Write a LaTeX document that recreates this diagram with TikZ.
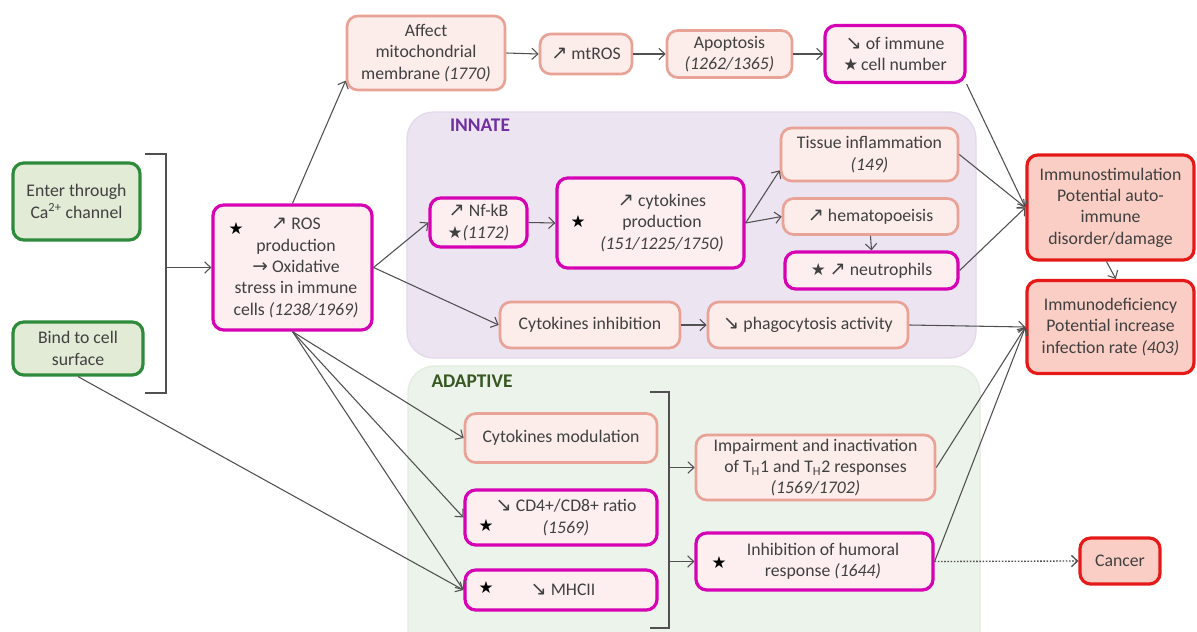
\documentclass[tikz,border=0pt]{standalone}
\usepackage{fontspec}
\setmainfont{Carlito}
\newfontfamily\symf{DejaVu Sans}
\usetikzlibrary{arrows.meta}
\newcommand{\arrup}{{\symf\fontsize{14.5}{14.5}\selectfont ↗}}
\newcommand{\arrdn}{{\symf\fontsize{14.5}{14.5}\selectfont ↘}}
\newcommand{\arrr}{{\symf\fontsize{14}{14}\selectfont →}}
\newcommand{\starx}{{\symf\fontsize{12.5}{12.5}\selectfont ★}}
\definecolor{textc}{RGB}{64,64,64}
\definecolor{linec}{RGB}{80,80,80}
\definecolor{gdraw}{RGB}{46,139,60}
\definecolor{gfill}{RGB}{226,235,214}
\definecolor{pdraw}{RGB}{232,162,150}
\definecolor{pfill}{RGB}{252,236,234}
\definecolor{mdraw}{RGB}{214,0,180}
\definecolor{mfill}{RGB}{253,239,240}
\definecolor{rdraw}{RGB}{230,25,25}
\definecolor{rfill}{RGB}{250,206,196}
\definecolor{innfill}{RGB}{237,228,242}
\definecolor{innline}{RGB}{228,216,236}
\definecolor{adafill}{RGB}{236,243,234}
\definecolor{adaline}{RGB}{226,236,224}
\definecolor{innlab}{RGB}{112,48,160}
\definecolor{adalab}{RGB}{56,87,35}
\tikzset{
  box/.style={rounded corners=8pt, align=center, text=textc, inner sep=2pt,
    font=\fontsize{13.3}{16}\selectfont},
  bx/.style 2 args={minimum width=#1*0.75pt, minimum height=#2*0.75pt},
  gbox/.style={box, draw=gdraw, fill=gfill, line width=2.4pt},
  pbox/.style={box, draw=pdraw, fill=pfill, line width=2pt},
  mbox/.style={box, draw=mdraw, fill=mfill, line width=2.4pt},
  rbox/.style={box, draw=rdraw, fill=rfill, line width=2.4pt},
  lbl/.style={align=center, text=textc, inner sep=0pt, font=\fontsize{13.3}{16}\selectfont},
  starnode/.style={inner sep=0pt, text=black},
  conn/.style={draw=linec, line width=0.8pt, -{Straight Barb[length=4.5pt,width=8.5pt]}},
  dots/.style={dash pattern=on 1.2pt off 1.2pt, line width=1pt},
  brk/.style={draw=linec, line width=1pt},
  region/.style={rounded corners=20pt, line width=1pt},
  reglab/.style={font=\fontsize{14.5}{16}\selectfont\bfseries, inner sep=0pt}
}
\begin{document}
\begin{tikzpicture}[x=0.75pt,y=-0.75pt]
\useasboundingbox (0,0) rectangle (1197,632);
\fill[white] (0,0) rectangle (1197,632);
% regions
\path[region, fill=innfill, draw=innline] (407,112) rectangle (976,358);
\path[region, fill=adafill, draw=adaline] (408,366) rectangle (980,680);
\node[reglab, text=innlab] (innlabel) at (480,125) {INNATE};
\node[reglab, text=adalab] (adalabel) at (472,381) {ADAPTIVE};
% entry
\node[gbox, bx={127}{77}] (ca) at (76.5,201.5) {Enter through\\Ca\textsuperscript{2+} channel};
\node[gbox, bx={130}{53}] (bind) at (78,348.5) {Bind to cell\\surface};
\draw[brk] (145,154) -- (166,154) -- (166,393) -- (145,393);
\coordinate (b1) at (166,267.5);
% ROS
\node[mbox, bx={159}{125}] (ros) at (292.5,267.5) {};
\node[lbl] (rostxt) at (296,268) {\arrup{} ROS\\production\\\arrr{} Oxidative\\stress in immune\\cells \textit{(1238/1969)}};
\node[starnode] (s1) at (236,229) {\starx};
% top row
\node[pbox, bx={158}{74}] (aff) at (426,53) {Affect\\mitochondrial\\membrane \textit{(1770)}};
\node[pbox, bx={92}{40}] (mtros) at (586,54) {\arrup{} mtROS};
\node[pbox, bx={125}{47}] (apop) at (729.5,54) {Apoptosis\\\textit{(1262/1365)}};
\node[mbox, bx={140}{57}] (imm) at (895,54) {\arrdn{} of immune\\\starx{}\,cell number};
% innate
\node[mbox, bx={97}{49}] (nfkb) at (478.5,222.5) {\arrup{} Nf-kB\\\starx\textit{(1172)}};
\node[mbox, bx={187}{90}] (cyto) at (650.5,223) {};
\node[lbl] (cytotxt) at (662,223) {\arrup{} cytokines\\production\\\textit{(151/1225/1750)}};
\node[starnode] (s2) at (578,222) {\starx};
\node[pbox, bx={177}{53}] (tissue) at (869.5,154.5) {Tissue inflammation\\\textit{(149)}};
\node[pbox, bx={175}{36}] (hema) at (870.5,216.5) {\arrup{} hematopoeisis};
\node[mbox, bx={173}{37}] (neut) at (871.5,270.5) {\starx{} \arrup{} neutrophils};
\node[pbox, bx={180}{46}] (cinh) at (590,325) {Cytokines inhibition};
\node[pbox, bx={200}{46}] (phago) at (808,325) {\arrdn{} phagocytosis activity};
% outcomes
\node[rbox, bx={167}{105}] (stim) at (1110.5,207.5) {Immunostimulation\\Potential auto-\\immune\\disorder/damage};
\node[rbox, bx={167}{93}] (def) at (1110.5,327) {Immunodeficiency\\Potential increase\\infection rate \textit{(403)}};
\node[rbox, bx={80}{46}] (cancer) at (1120,561) {Cancer};
% adaptive
\node[pbox, bx={192}{49}] (cmod) at (561,438) {Cytokines modulation};
\node[mbox, bx={192}{55}] (cd4) at (561,517.5) {};
\node[lbl] (cd4txt) at (566,517.5) {\arrdn{} CD4+/CD8+ ratio\\\textit{(1569)}};
\node[starnode] (s3) at (486,526) {\starx};
\node[mbox, bx={192}{40}] (mhc) at (561,590) {};
\node[lbl] (mhctxt) at (563,590) {\arrdn{} MHCII};
\node[starnode] (s4) at (486,588) {\starx};
\draw[brk] (650,392) -- (669,392) -- (669,628) -- (650,628);
\coordinate (b2) at (669,467.5);
\coordinate (b3) at (669,561.5);
\node[pbox, bx={239}{65}] (imp) at (815.5,467.5) {Impairment and inactivation\\of T\textsubscript{H}1 and T\textsubscript{H}2 responses\\\textit{(1569/1702)}};
\node[mbox, bx={237}{57}] (inhib) at (814.5,561.5) {};
\node[lbl] (inhibtxt) at (823,561.5) {Inhibition of humoral\\response \textit{(1644)}};
\node[starnode] (s5) at (719,563) {\starx};
% connectors
\draw[conn] (b1) -- (ros.west);
\draw[conn] (ros.north) -- (aff.199);
\draw[conn] (aff.east) -- (mtros.west);
\draw[conn] (mtros.east) -- (apop.west);
\draw[conn] (apop.east) -- (imm.west);
\draw[conn] (imm.south east) -- (stim.west);
\draw[conn] (ros.east) -- (nfkb.west);
\draw[conn] (ros.east) -- (cinh.west);
\draw[conn] (nfkb.east) -- (cyto.west);
\draw[conn] (cyto.east) -- (tissue.190);
\draw[conn] (cyto.east) -- (hema.west);
\draw[conn] (hema.south) -- (neut.north);
\draw[conn] (cinh.east) -- (phago.west);
\draw[conn] (tissue.east) -- (stim.west);
\draw[conn] (neut.east) -- (stim.west);
\draw[conn] (phago.east) -- (def.west);
\draw[conn] ([xshift=-3pt]stim.south) -- ([xshift=4pt]def.north);
\draw[conn] (ros.south) -- (cmod.west);
\draw[conn] (ros.south) -- (cd4.west);
\draw[conn] (ros.south) -- (mhc.west);
\draw[conn] (bind.south) -- (mhc.west);
\draw[conn] (b2) -- (imp.west);
\draw[conn] (b3) -- (inhib.west);
\draw[conn] (imp.east) -- (def.west);
\draw[conn] (inhib.east) -- (def.west);
\draw[conn, dots] (inhib.east) -- (cancer.west);
\end{tikzpicture}
\end{document}
